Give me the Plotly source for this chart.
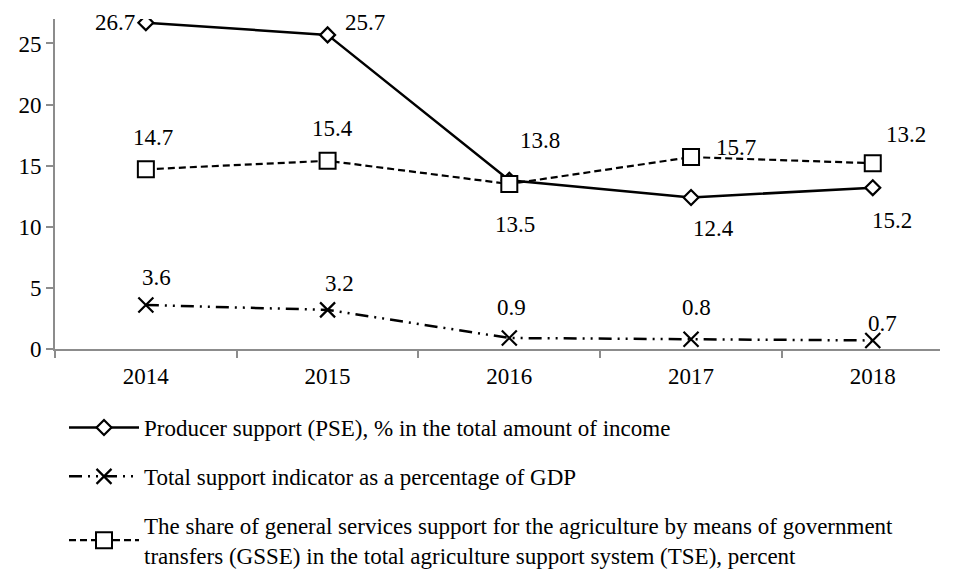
import plotly.graph_objects as go

years = ["2014", "2015", "2016", "2017", "2018"]
pse_values = [26.7, 25.7, 13.8, 12.4, 13.2]
tse_values = [3.6, 3.2, 0.9, 0.8, 0.7]
gsse_values = [14.7, 15.4, 13.5, 15.7, 15.2]

# data label texts as printed in the source figure
pse_labels = ["26.7", "25.7", "13.8", "12.4", "15.2"]
tse_labels = ["3.6", "3.2", "0.9", "0.8", "0.7"]
gsse_labels = ["14.7", "15.4", "13.5", "15.7", "13.2"]

pse_name = "Producer support (PSE), % in the total amount of income"
tse_name = "Total support indicator as a percentage of GDP"
gsse_name = ("The share of general services support for the agriculture by means of government<br>"
             "transfers (GSSE) in the total agriculture support system (TSE), percent")

FONT = "Liberation Serif, Times New Roman, serif"
FS = 23
AXIS_C = "#8c8c8c"
W, H = 950, 567  # page body adds an 8px margin

fig = go.Figure()

fig.add_trace(go.Scatter(
    x=years, y=pse_values, name=pse_name, mode="lines+markers",
    line=dict(color="black", width=2.5),
    marker=dict(symbol="diamond", size=11.5, color="white", line=dict(color="black", width=2.2)),
    legendgroup="a",
))
fig.add_trace(go.Scatter(
    x=years, y=tse_values, name=tse_name, mode="lines+markers",
    line=dict(color="black", width=2.5, dash="13px,6px,2px,6px,2px,6px"),
    marker=dict(symbol="x-thin", size=15, color="black", line=dict(color="black", width=2.2)),
    legendgroup="b",
))
fig.add_trace(go.Scatter(
    x=years, y=gsse_values, name=gsse_name, mode="lines+markers",
    line=dict(color="black", width=2.2, dash="7px,4px"),
    marker=dict(symbol="square", size=16, color="white", line=dict(color="black", width=2)),
    legendgroup="c",
))

# label offsets (px) relative to each point
pse_off = [(-9, 0, "right"), (15, 12, "left"), (31, 40, "center"), (22, -31, "center"), (19, -33, "center")]
tse_off = [(11, 28, "center"), (12, 26, "center"), (2, 31, "center"), (5, 32, "center"), (10, 17, "center")]
gsse_off = [(7, 32, "center"), (5, 32, "center"), (6, -40, "center"), (45, 10, "center"), (33, 29, "center")]

for vals, labs, offs in [(pse_values, pse_labels, pse_off),
                         (tse_values, tse_labels, tse_off),
                         (gsse_values, gsse_labels, gsse_off)]:
    for i, (yv, t, (dx, dy, anc)) in enumerate(zip(vals, labs, offs)):
        fig.add_annotation(x=i, y=yv, xref="x", yref="y", text=t, showarrow=False,
                           xshift=dx, yshift=dy, xanchor=anc, yanchor="middle",
                           font=dict(family=FONT, size=FS, color="black"))

fig.update_layout(
    width=W, height=H,
    margin=dict(l=47, r=18, t=11, b=226, autoexpand=False),
    paper_bgcolor="white", plot_bgcolor="white",
    font=dict(family=FONT, size=FS, color="black"),
    showlegend=True,
    legend=dict(
        xref="container", yref="container",
        x=56 / W, y=1 - 398 / H, xanchor="left", yanchor="top",
        orientation="v", itemwidth=70, tracegroupgap=16,
        font=dict(family=FONT, size=FS, color="black"),
        bgcolor="rgba(0,0,0,0)", itemclick=False,
    ),
    xaxis=dict(
        type="category", range=[-0.5, 4.37],
        showline=True, linecolor=AXIS_C, linewidth=2,
        ticks="outside", tickson="boundaries", ticklen=7, tickwidth=2, tickcolor=AXIS_C,
        showgrid=False, zeroline=False, tickangle=0, ticklabelstandoff=5,
        tickfont=dict(family=FONT, size=FS, color="black"),
    ),
    yaxis=dict(
        range=[0, 27], dtick=5, tick0=0,
        showline=True, linecolor=AXIS_C, linewidth=2,
        ticks="outside", ticklen=7, tickwidth=2, tickcolor=AXIS_C,
        showgrid=False, zeroline=False,
        tickfont=dict(family=FONT, size=FS, color="black"),
    ),
)

fig.write_html("out.html")
